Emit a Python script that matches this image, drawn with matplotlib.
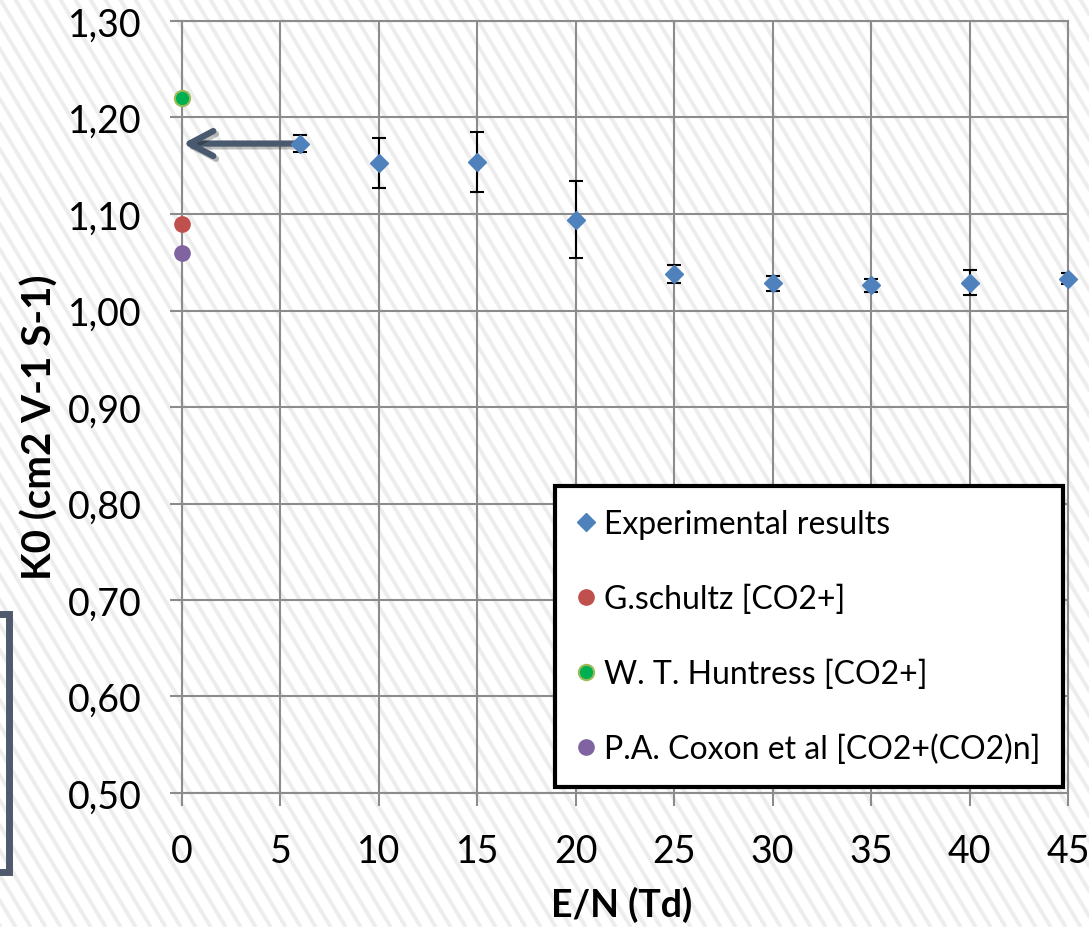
import numpy as np
import matplotlib
matplotlib.use("Agg")
import matplotlib.pyplot as plt
from matplotlib.collections import LineCollection
from matplotlib.patches import Rectangle
from matplotlib.ticker import FuncFormatter, MultipleLocator
import matplotlib.patheffects as pe

plt.rcParams['font.family'] = ['Lato', 'DejaVu Sans']

# data
en_td = [6, 10, 15, 20, 25, 30, 35, 40, 45]
k0_exp = [1.173, 1.153, 1.154, 1.094, 1.038, 1.028, 1.026, 1.029, 1.033]
k0_err = [0.009, 0.026, 0.031, 0.040, 0.009, 0.008, 0.007, 0.013, 0.006]

ref_x = [0]
k0_schultz = [1.09]
k0_huntress = [1.22]
k0_coxon = [1.06]

W, H = 1089, 928
fig = plt.figure(figsize=(W / 100, H / 100), dpi=100)
fig.patch.set_facecolor('white')

# diagonal stripes in the background
slope = 1.67
segs = []
for x0 in np.arange(-600, W + 20, 15):
    segs.append([(x0 / W, 1.0), ((x0 + H / slope) / W, 0.0)])
stripes = LineCollection(segs, colors='#ededed', linewidths=2.8,
                         transform=fig.transFigure, zorder=-2)
fig.add_artist(stripes)

ax = fig.add_axes([182 / W, 1 - 794 / H, (1068 - 182) / W, (794 - 22) / H])
ax.set_facecolor('none')

grey = '#8c8c8c'
ax.set_xlim(0, 45)
ax.set_ylim(0.50, 1.30)
ax.xaxis.set_major_locator(MultipleLocator(5))
ax.yaxis.set_major_locator(MultipleLocator(0.1))
ax.yaxis.set_major_formatter(FuncFormatter(lambda v, p: f"{v:.2f}".replace('.', ',')))
ax.grid(True, color=grey, lw=1.5)
ax.set_axisbelow(True)
for s in ax.spines.values():
    s.set_color(grey)
    s.set_linewidth(1.5)
ax.tick_params(axis='both', direction='out', length=9, width=1.5, color=grey,
               labelsize=27, labelcolor='black')
ax.tick_params(axis='y', pad=20)
ax.tick_params(axis='x', pad=20)

ax.errorbar(en_td, k0_exp, yerr=k0_err, fmt='none', ecolor='black',
            elinewidth=1.5, capsize=5, capthick=1.5, zorder=3)
ax.plot(en_td, k0_exp, 'D', color='#4f81bd', ms=9, mec='#4f81bd',
        label='Experimental results', zorder=4, clip_on=False)
ax.plot(ref_x, k0_schultz, 'o', color='#c0504d', ms=11, mec='#c0504d',
        label='G.schultz [CO2+]', zorder=4, clip_on=False)
ax.plot(ref_x, k0_huntress, 'o', color='#00b050', ms=11, mec='#9bbb59', mew=1.5,
        label='W. T. Huntress [CO2+]', zorder=4, clip_on=False)
ax.plot(ref_x, k0_coxon, 'o', color='#8064a2', ms=11, mec='#8064a2',
        label='P.A. Coxon et al [CO2+(CO2)n]', zorder=4, clip_on=False)

arr = ax.annotate('', xy=(0.05, k0_exp[0]), xytext=(en_td[0] - 0.2, k0_exp[0]),
                  arrowprops=dict(arrowstyle='->, head_length=0.85, head_width=0.45',
                                  color='#4a5a6e', lw=4.5, mutation_scale=20,
                                  shrinkA=0, shrinkB=0))
arr.arrow_patch.set_path_effects([pe.SimpleLineShadow(offset=(2, -2), alpha=0.25),
                                  pe.Normal()])

leg = ax.legend(loc='upper left', bbox_to_anchor=(555 / W, 1 - 487 / H),
                bbox_transform=fig.transFigure, borderaxespad=0,
                fontsize=23, numpoints=1, handlelength=0.5, handletextpad=0.3,
                labelspacing=1.4, borderpad=0.72, fancybox=False, framealpha=1)
leg.get_frame().set_edgecolor('black')
leg.get_frame().set_linewidth(3)

# box at the left edge
fig.add_artist(Rectangle((-20 / W, 1 - 873 / H), 29 / W, (873 - 615) / H,
                         transform=fig.transFigure, fill=False,
                         edgecolor='#4f5b6c', lw=5))

fig.text(40 / W, 1 - 427 / H, 'K0 (cm2 V-1 S-1)', rotation=90, ha='center',
         va='center', fontsize=29, fontweight='bold')
fig.text(622 / W, 1 - 905 / H, 'E/N (Td)', ha='center', va='center',
         fontsize=27, fontweight='bold')

fig.savefig('out.png', dpi=100)
